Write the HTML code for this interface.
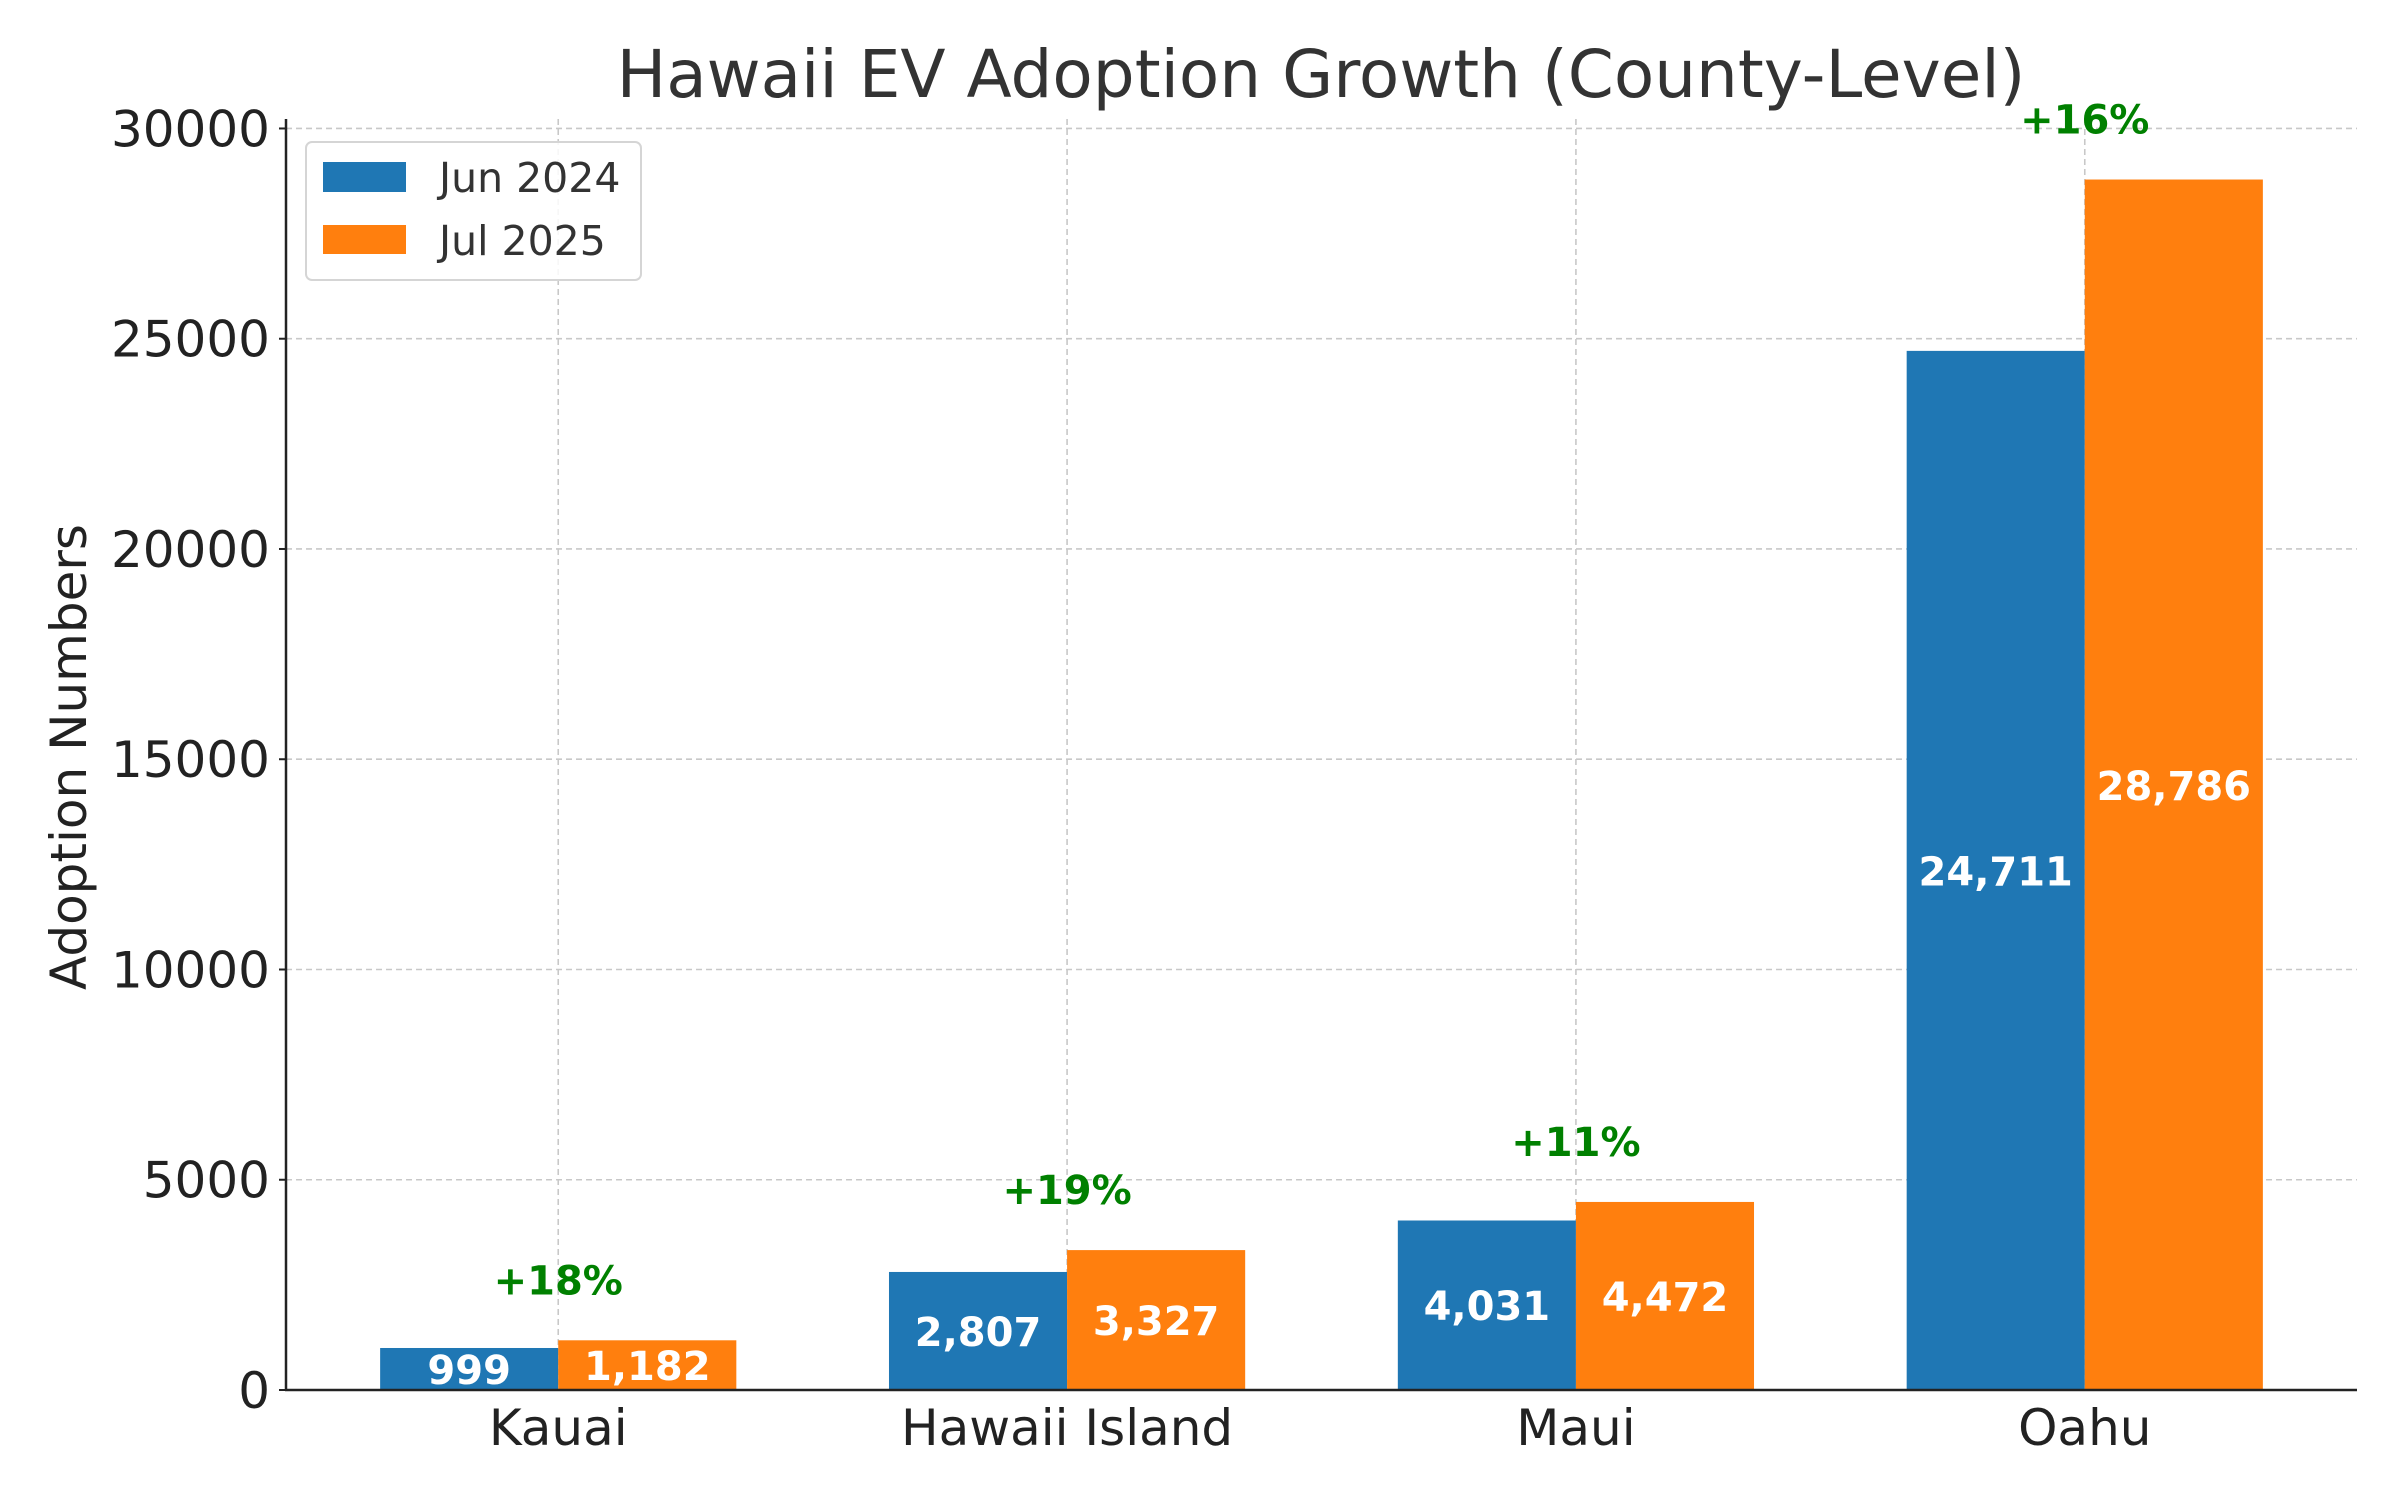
<!DOCTYPE html>
<html><head><meta charset="utf-8"><style>
body{margin:0;background:#fff;}
svg{display:block;font-family:"DejaVu Sans","Liberation Sans",sans-serif;}
</style></head><body>
<svg id="chart" width="2400" height="1500" viewBox="0 0 2400 1500">
<rect width="2400" height="1500" fill="#fff"/>
<text x="1321" y="97" font-size="66" fill="#333" text-anchor="middle">Hawaii EV Adoption Growth (County-Level)</text>
<g id="grid"></g>
<g id="bars"></g>
<g id="axes"></g>
<text transform="translate(86,757) rotate(-90)" font-size="50" fill="#222" text-anchor="middle">Adoption Numbers</text>
<g>
<rect x="306" y="142" width="335" height="138" rx="6" fill="#fff" fill-opacity="0.85" stroke="#d5d5d5" stroke-width="2"/>
<rect x="323" y="162" width="83" height="30" fill="#1f77b4"/>
<text x="439" y="192" font-size="41" fill="#333">Jun 2024</text>
<rect x="323" y="225" width="83" height="29" fill="#ff7f0e"/>
<text x="439" y="255" font-size="41" fill="#333">Jul 2025</text>
</g>
</svg>
<script>
const categories = ["Kauai", "Hawaii Island", "Maui", "Oahu"];
const jun2024 = [999, 2807, 4031, 24711];
const jul2025 = [1182, 3327, 4472, 28786];
const yTicks = [0, 5000, 10000, 15000, 20000, 25000, 30000];

const NS = "http://www.w3.org/2000/svg";
const L = 286, R = 2357, B = 1390, T = 119;
const barW = 0.35;
const xMin = -0.535, xMax = categories.length - 1 + 0.535;
const yMax = Math.max(...jul2025, ...jun2024) * 1.05;
const xs = v => L + (v - xMin) / (xMax - xMin) * (R - L);
const ys = v => B - v / yMax * (B - T);
function mk(tag, attrs, parent, text){
  const e = document.createElementNS(NS, tag);
  for (const k in attrs) e.setAttribute(k, attrs[k]);
  if (text !== undefined) e.textContent = text;
  parent.appendChild(e); return e;
}
const grid = document.getElementById('grid');
const bars = document.getElementById('bars');
const axes = document.getElementById('axes');
const fmt = n => n.toLocaleString('en-US');

yTicks.forEach(t => {
  const y = ys(t);
  const g = mk('line', {x1:L, x2:R, y1:y, y2:y, stroke:'#c8c8c8', 'stroke-width':1.6, 'stroke-dasharray':'6,4'}, grid);
  
  
  const tk = mk('line', {x1:L-7, x2:L, y1:y, y2:y, stroke:'#222', 'stroke-width':2}, axes);
  
  
  const lb = mk('text', {x:L-16, y:y+18, 'font-size':50, fill:'#222', 'text-anchor':'end'}, axes, String(t));
  
  
});
categories.forEach((c, i) => {
  const x = xs(i);
  const g = mk('line', {x1:x, x2:x, y1:T, y2:B, stroke:'#c8c8c8', 'stroke-width':1.6, 'stroke-dasharray':'6,4'}, grid);
  
  
  const lb = mk('text', {x:x, y:1445, 'font-size':50, fill:'#222', 'text-anchor':'middle'}, axes, c);
  
  

  const series = [[jun2024[i], '#1f77b4', -barW, 'bar-jun-2024'], [jul2025[i], '#ff7f0e', 0, 'bar-jul-2025']];
  series.forEach(([v, col, off, nm]) => {
    const x0 = xs(i + off), x1 = xs(i + off + barW);
    const r = mk('rect', {x:x0, y:ys(v), width:x1 - x0, height:B - ys(v), fill:col}, bars);
    
    
    const t = mk('text', {x:(x0 + x1) / 2, y:ys(v / 2) + 15, 'font-size':40, 'font-weight':'bold', fill:'#fff', 'text-anchor':'middle'}, bars, fmt(v));
    
    
  });
  const pct = Math.round((jul2025[i] - jun2024[i]) / jun2024[i] * 100);
  const p = mk('text', {x:x, y:ys(Math.max(jun2024[i], jul2025[i]) + 1450) + 15, 'font-size':40, 'font-weight':'bold', fill:'#008000', 'text-anchor':'middle'}, bars, '+' + pct + '%');
  
  
});
const ya = mk('line', {x1:L, x2:L, y1:T, y2:B + 1, stroke:'#222', 'stroke-width':2.5}, axes);


const xa = mk('line', {x1:L - 1, x2:R, y1:B, y2:B, stroke:'#222', 'stroke-width':2.5}, axes);


</script>
</body></html>
